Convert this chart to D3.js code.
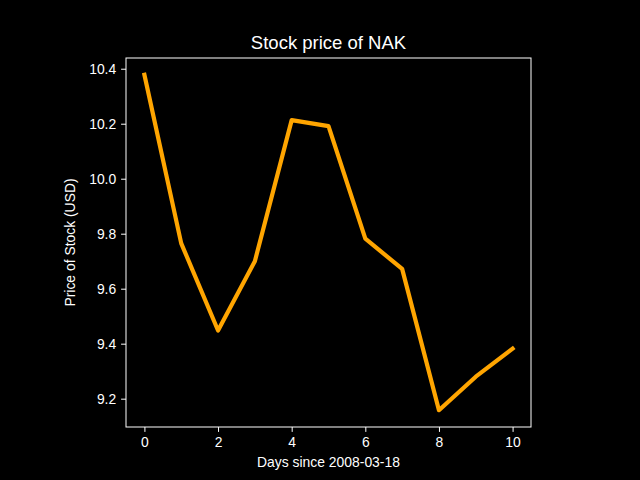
<!DOCTYPE html>
<html><head><meta charset="utf-8">
<script src="https://cdn.jsdelivr.net/npm/d3@7"></script>
<style>body{margin:0;background:#000}svg{display:block}</style>
</head><body>
<svg id="c" width="640" height="480"></svg>
<script>
const days = [0,1,2,3,4,5,6,7,8,9,10];
const prices = [10.378,9.765,9.448,9.700,10.213,10.191,9.782,9.672,9.158,9.280,9.382];
const xTicks = [0,2,4,6,8,10];
const yTicks = [9.2,9.4,9.6,9.8,10.0,10.2,10.4];
const title = "Stock price of NAK";
const xLabel = "Days since 2008-03-18";
const yLabel = "Price of Stock (USD)";

const svg = d3.select("#c");
svg.append("rect").attr("width",640).attr("height",480).attr("fill","#000");
const L=126,R=531,T=58,B=427;
const x = d3.scaleLinear().domain([-0.5,10.5]).range([L,R]);
const ymin=d3.min(prices), ymax=d3.max(prices), pad=(ymax-ymin)*0.05;
const y = d3.scaleLinear().domain([ymin-pad,ymax+pad]).range([B,T]);
const font = "'Liberation Sans', Arial, sans-serif";

const gx = svg.append("g").attr("transform",`translate(0,${B})`)
  .call(d3.axisBottom(x).tickValues(xTicks).tickFormat(d3.format("d")).tickSize(4.9).tickPadding(4.9));
const gy = svg.append("g").attr("transform",`translate(${L},0)`)
  .call(d3.axisLeft(y).tickValues(yTicks).tickFormat(d3.format(".1f")).tickSize(4.9).tickPadding(4.9));
[gx,gy].forEach(g=>{
  g.select(".domain").remove();
  g.selectAll("line").attr("stroke","#fff").attr("stroke-width",1);
  g.selectAll("text").attr("fill","#fff").style("font-family",font).style("font-size","13.9px");
});
svg.append("rect").attr("x",L).attr("y",T).attr("width",R-L).attr("height",B-T)
  .attr("fill","none").attr("stroke","#fff").attr("stroke-width",1);

svg.append("path").datum(days.map((d,i)=>[d,prices[i]]))
  .attr("fill","none").attr("stroke","#ffa500").attr("stroke-width",4.2)
  .attr("stroke-linejoin","round").attr("stroke-linecap","square")
  .attr("d",d3.line().x(d=>x(d[0])).y(d=>y(d[1])));

svg.append("text").attr("x",(L+R)/2).attr("y",T-9).attr("text-anchor","middle")
  .attr("fill","#fff").style("font-family",font).style("font-size","18.5px").text(title);
svg.append("text").attr("x",(L+R)/2).attr("y",467).attr("text-anchor","middle")
  .attr("fill","#fff").style("font-family",font).style("font-size","13.9px").text(xLabel);
svg.append("text").attr("transform",`translate(75,${(T+B)/2}) rotate(-90)`).attr("text-anchor","middle")
  .attr("fill","#fff").style("font-family",font).style("font-size","13.9px").text(yLabel);
</script>
</body></html>
